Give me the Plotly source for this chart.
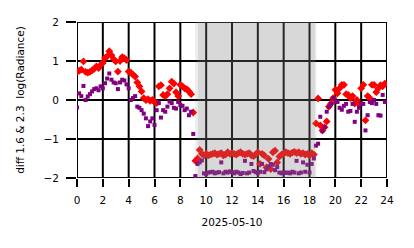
import numpy as np
import plotly.graph_objects as go

# time of day in hours, 10-minute samples
hours = np.arange(144) / 6.0

diff_red = [
    0.72, 0.75, 0.78, 0.99, 0.72, 0.70,
    0.72, 0.76, 0.80, 0.86, 0.82, 0.90,
    0.95, 1.08, 1.12, 1.25, 1.15, 1.05,
    0.99, 0.73, 1.00, 1.10, 1.07, 1.02,
    0.73, 0.70, 0.65, 0.60, 0.45, 0.35,
    0.22, 0.05, 0.00, 0.02, -0.02, 0.00,
    -0.05, -0.08, 0.35, 0.38, 0.13, 0.10,
    0.15, 0.30, 0.47, 0.42, 0.20, 0.10,
    0.39, 0.35, 0.30, 0.28, 0.22, 0.15,
    -0.32, -1.56, -1.50, -1.28, -1.38, -1.42,
    -1.38, -1.42, -1.40, -1.38, -1.36, -1.40,
    -1.38, -1.36, -1.42, -1.40, -1.34, -1.38,
    -1.36, -1.38, -1.40, -1.36, -1.34, -1.38,
    -1.40, -1.38, -1.36, -1.42, -1.44, -1.40,
    -1.34, -1.64, -1.38, -1.42, -1.73, -1.51,
    -1.77, -1.34, -1.30, -1.60, -1.45, -1.40,
    -1.38, -1.34, -1.36, -1.38, -1.35, -1.33,
    -1.36, -1.34, -1.38, -1.36, -1.40, -1.38,
    -1.42, -1.36, -1.40, -0.60, 0.04, -0.65,
    -0.78, -0.70, -0.55, -0.17, -0.09, 0.05,
    0.26, 0.17, 0.30, 0.39, 0.39, 0.15,
    0.13, 0.05, 0.10, -0.09, 0.00, -0.10,
    0.30, 0.39, -0.52, 0.10, 0.05, 0.39,
    0.39, 0.20, 0.30, 0.38, 0.35, 0.42,
]

diff_purple = [
    -0.19, 0.17, 0.10, 0.36, 0.00, 0.09,
    0.15, 0.22, 0.28, 0.30, 0.25, 0.35,
    0.30, 0.43, 0.55, 0.68, 0.52, 0.45,
    0.43, 0.28, 0.45, 0.52, 0.50, 0.40,
    0.30, 0.00, 0.05, 0.10, -0.17, -0.20,
    -0.26, -0.35, -0.47, -0.67, -0.55, -0.47,
    -0.64, -0.26, -0.08, -0.45, -0.26, -0.30,
    -0.17, -0.04, -0.08, -0.20, -0.22, -0.05,
    -0.13, -0.15, -0.26, -0.22, -0.39, -0.30,
    -0.87, -1.95, -1.64, -1.60, -1.55, -1.88,
    -1.90, -1.86, -1.85, -1.84, -1.88, -1.86,
    -1.85, -1.60, -1.88, -1.84, -1.86, -1.83,
    -1.85, -1.88, -1.84, -1.86, -1.90, -1.87,
    -1.56, -1.88, -1.86, -1.64, -1.82, -1.85,
    -1.88, -1.84, -1.64, -1.85, -1.78, -1.70,
    -1.64, -1.66, -1.80, -1.72, -1.86, -1.88,
    -1.85, -1.87, -1.86, -1.88, -1.84, -1.86,
    -1.56, -1.88, -1.86, -1.60, -1.84, -1.66,
    -1.86, -1.64, -1.50, -1.17, -1.12, -0.43,
    -0.80, -0.69, -0.30, -0.17, -0.10, 0.05,
    -0.04, -0.05, -0.20, -0.25, -0.15, -0.10,
    -0.30, -0.28, -0.10, -0.56, -0.30, -0.20,
    -0.09, -0.10, -0.78, -0.39, -0.05, -0.08,
    0.00, -0.10, -0.39, -0.40, 0.13, -0.05,
]

night_outer = (9.15, 18.55)
night_inner = (9.37, 18.42)

x_ticks = list(range(0, 25, 2))
y_ticks = [-2, -1, 0, 1, 2]
y_labels = ["\u22122", "\u22121", "0", "1", "2"]

FONT = "DejaVu Sans"

fig = go.Figure()
fig.add_trace(go.Scatter(
    x=hours, y=diff_red, mode="markers",
    marker=dict(symbol="diamond", size=6, color="red", line=dict(width=0)),
    showlegend=False,
))
fig.add_trace(go.Scatter(
    x=hours, y=diff_purple, mode="markers",
    marker=dict(symbol="square", size=4, color="purple", line=dict(width=0)),
    showlegend=False,
))

# grid lines at the tick positions (drawn as shapes beneath the markers)
for xv in x_ticks:
    fig.add_shape(type="line", xref="x", yref="paper", x0=xv, x1=xv, y0=0, y1=1,
                  line=dict(color="black", width=2), layer="below")
for yv in y_ticks:
    fig.add_shape(type="line", xref="paper", yref="y", x0=0, x1=1, y0=yv, y1=yv,
                  line=dict(color="black", width=2), layer="below")

# night shading
fig.add_shape(type="rect", xref="x", yref="paper",
              x0=night_outer[0], x1=night_outer[1], y0=0, y1=1,
              fillcolor="gray", opacity=0.15, line=dict(width=0), layer="above")
fig.add_shape(type="rect", xref="x", yref="paper",
              x0=night_inner[0], x1=night_inner[1], y0=0, y1=1,
              fillcolor="gray", opacity=0.18, line=dict(width=0), layer="above")

fig.update_layout(
    template="none",
    width=414, height=248,
    margin=dict(l=77, r=27, t=22, b=70),
    paper_bgcolor="white", plot_bgcolor="white",
    font=dict(family=FONT, size=10.5, color="black"),
)
fig.update_xaxes(
    range=[0, 24], tickmode="array", tickvals=x_ticks, ticktext=[str(t) for t in x_ticks],
    showgrid=False, showline=False, zeroline=False,
    ticks="outside", ticklen=8, tickwidth=2, tickcolor="black",
    ticklabelstandoff=4,
    tickfont=dict(size=10.5),
    title=dict(text="2025-05-10", font=dict(size=10.5), standoff=14),
)
fig.update_yaxes(
    range=[-2, 2], tickmode="array", tickvals=y_ticks, ticktext=y_labels,
    showgrid=False, showline=False, zeroline=False,
    ticks="outside", ticklen=10, tickwidth=2, tickcolor="black",
    ticklabelstandoff=5,
    tickfont=dict(size=10.5),
    title=dict(text="diff 1.6 &amp; 2.3  log(Radiance)", font=dict(size=10.5), standoff=16),
)

fig.write_html("out.html")
